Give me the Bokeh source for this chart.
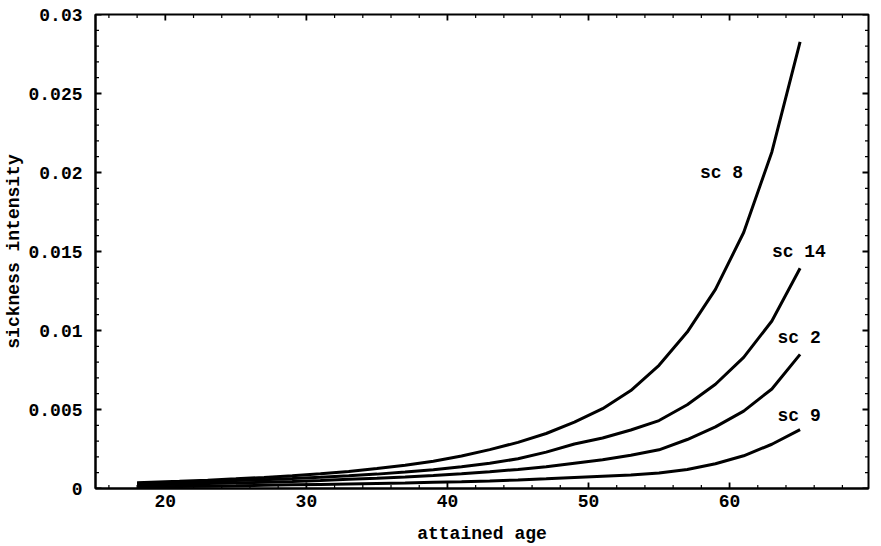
from bokeh.plotting import figure
from bokeh.models import Range1d, FixedTicker, CustomJSTickFormatter
from bokeh.core.properties import value
from bokeh.embed import file_html
from bokeh.resources import INLINE

# ---- data ----
ages = [18, 19, 21, 23, 25, 27, 29, 31, 33, 35, 37, 39, 41, 43, 45, 47, 49,
        51, 53, 55, 57, 59, 61, 63, 65]
sc8 = [0.00036, 0.00040, 0.00046, 0.00053, 0.00061, 0.00070, 0.00080, 0.00093,
       0.00108, 0.00126, 0.00147, 0.00173, 0.00206, 0.00246, 0.00292, 0.00348,
       0.00420, 0.00505, 0.00620, 0.00780, 0.00990, 0.01260, 0.01620, 0.02130,
       0.02826]
sc14 = [0.00031, 0.00034, 0.00039, 0.00044, 0.00050, 0.00056, 0.00063, 0.00071,
        0.00080, 0.00091, 0.00104, 0.00119, 0.00138, 0.00160, 0.00188, 0.00230,
        0.00282, 0.00320, 0.00370, 0.00430, 0.00530, 0.00660, 0.00830, 0.01060,
        0.01394]
sc2 = [0.00021, 0.00023, 0.00027, 0.00031, 0.00035, 0.00040, 0.00045, 0.00051,
       0.00058, 0.00065, 0.00073, 0.00082, 0.00093, 0.00106, 0.00121, 0.00138,
       0.00160, 0.00182, 0.00210, 0.00245, 0.00310, 0.00390, 0.00490, 0.00630,
       0.00849]
sc9 = [0.00010, 0.00011, 0.00013, 0.00015, 0.00017, 0.00020, 0.00023, 0.00026,
       0.00029, 0.00032, 0.00035, 0.00039, 0.00043, 0.00048, 0.00054, 0.00061,
       0.00069, 0.00077, 0.00085, 0.00098, 0.00120, 0.00157, 0.00207, 0.00280,
       0.00373]

series = [sc8, sc14, sc2, sc9]
label_text = ["sc 8", "sc 14", "sc 2", "sc 9"]
label_x = [57.9, 63.0, 63.4, 63.4]
label_y = [0.0200, 0.0150, 0.0095, 0.00457]

x_ticks = [20, 30, 40, 50, 60, 70]
x_minor = [16, 18, 22, 24, 26, 28, 32, 34, 36, 38, 42, 44, 46, 48, 52, 54, 56, 58,
           62, 64, 66, 68]
y_ticks = [0, 0.005, 0.01, 0.015, 0.02, 0.025, 0.03]
y_minor = [i * 0.001 for i in range(31) if i % 5 != 0]

X0, X1 = 15.05, 69.85
Y0, Y1 = 0.0, 0.03

FONT = "Liberation Mono"
FS = "18px"

FRAME_W, FRAME_H = 773, 477   # approximate frame size in pixels
MAJ_PX, MIN_PX = 6, 3.5       # inward tick lengths in pixels
ux = (X1 - X0) / FRAME_W      # data units per pixel
uy = (Y1 - Y0) / FRAME_H

p = figure(width=881, height=546, output_backend="svg", toolbar_location=None,
           x_range=Range1d(X0, X1), y_range=Range1d(Y0, Y1),
           min_border_left=95, min_border_right=13, min_border_top=14,
           min_border_bottom=55)
p.xgrid.visible = False
p.ygrid.visible = False
p.background_fill_color = "white"
p.border_fill_color = "white"
p.outline_line_color = "black"
p.outline_line_width = 2

for ys in series:
    p.line(ages, ys, line_color="black", line_width=3)

p.text(x=label_x, y=label_y, text=label_text, text_font=value(FONT),
       text_font_style="bold", text_font_size=FS, text_align="left",
       text_baseline="middle", text_color="black")

# inward tick marks on all four sides
for ticks, L, lw in [(x_ticks, MAJ_PX, 1.8), (x_minor, MIN_PX, 1.2)]:
    n = len(ticks)
    p.segment(x0=ticks + ticks, x1=ticks + ticks,
              y0=[Y0] * n + [Y1] * n,
              y1=[Y0 + L * uy] * n + [Y1 - L * uy] * n,
              line_color="black", line_width=lw)
for ticks, L, lw in [(y_ticks, MAJ_PX, 1.8), (y_minor, MIN_PX, 1.2)]:
    n = len(ticks)
    p.segment(y0=ticks + ticks, y1=ticks + ticks,
              x0=[X0] * n + [X1] * n,
              x1=[X0 + L * ux] * n + [X1 - L * ux] * n,
              line_color="black", line_width=lw)

yfmt = CustomJSTickFormatter(code="return parseFloat(tick.toFixed(4)).toString();")


def style(ax):
    ax.axis_line_color = "black"
    ax.axis_line_width = 2
    ax.major_tick_in = 0
    ax.major_tick_out = 0
    ax.minor_tick_in = 0
    ax.minor_tick_out = 0
    ax.major_label_text_font = FONT
    ax.major_label_text_font_style = "bold"
    ax.major_label_text_font_size = FS
    ax.major_label_text_color = "black"
    ax.axis_label_text_font = FONT
    ax.axis_label_text_font_style = "bold"
    ax.axis_label_text_font_size = FS
    ax.axis_label_text_color = "black"


xa = p.xaxis[0]
xa.ticker = FixedTicker(ticks=x_ticks)
xa.axis_label = "attained age"
style(xa)
xa.major_label_standoff = 6
xa.axis_label_standoff = 14

ya = p.yaxis[0]
ya.ticker = FixedTicker(ticks=y_ticks)
ya.formatter = yfmt
ya.axis_label = "sickness intensity"
style(ya)
ya.major_label_standoff = 13
ya.axis_label_standoff = 1

open("out.html", "w").write(file_html(p, INLINE))
